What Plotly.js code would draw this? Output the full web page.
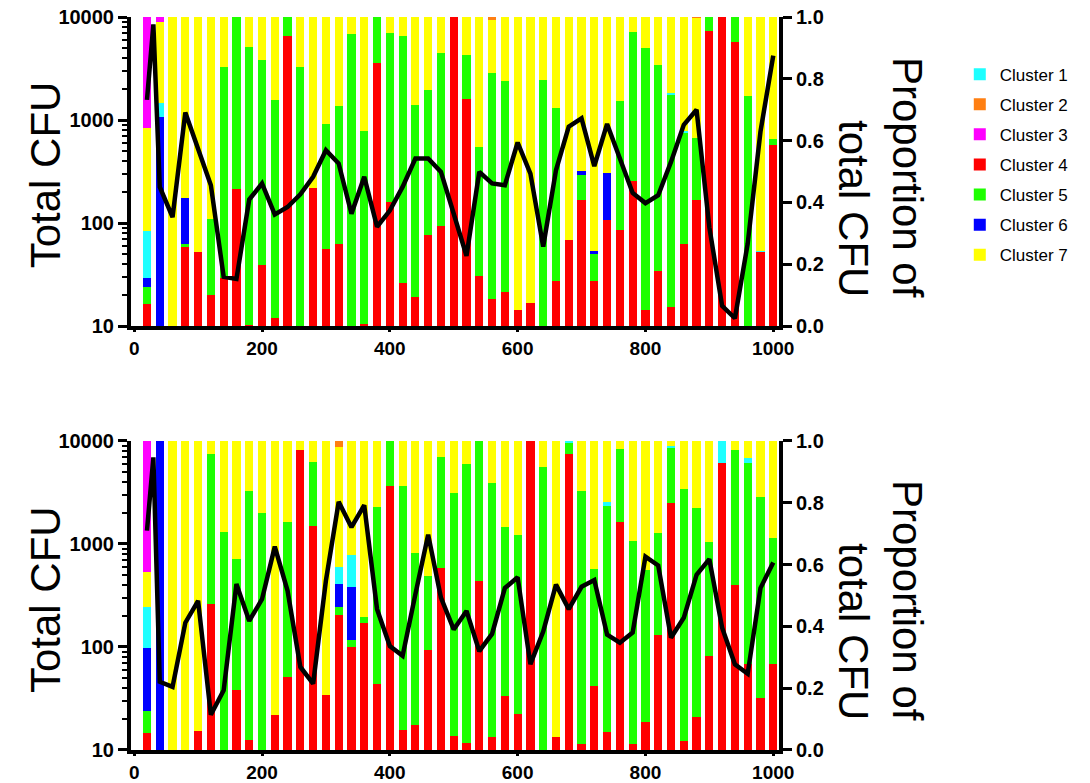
<!DOCTYPE html>
<html>
<head>
<meta charset="utf-8">
<script src="https://cdn.plot.ly/plotly-3.0.1.min.js"></script>
<style>html,body{margin:0;padding:0;background:#fff;}#chart{width:1090px;height:783px;}</style>
</head>
<body>
<div id="chart"></div>
<script>
// ---- categories ----
const xBars = [20,40,60,80,100,120,140,160,180,200,220,240,260,280,300,320,340,360,380,400,
  420,440,460,480,500,520,540,560,580,600,620,640,660,680,700,720,740,760,780,800,
  820,840,860,880,900,920,940,960,980,1000];
const xLine = [20,30,40,60,80,100,120,140,160,180,200,220,240,260,280,300,320,340,360,380,400,
  420,440,460,480,500,520,540,560,580,600,620,640,660,680,700,720,740,760,780,800,
  820,840,860,880,900,920,940,960,980,1000];
const clusterNames = ["Cluster 1","Cluster 2","Cluster 3","Cluster 4","Cluster 5","Cluster 6","Cluster 7"];
const clusterColors = ["#1EFFFF","#FF7F12","#FF00FF","#FF0000","#1EFF00","#0000FF","#FFFF00"];

// ---- top panel proportions ----
const topC1 = [.15,.047,0,0,0, 0,0,0,0,0, 0,0,0,0,0, 0,0,0,0,0, 0,0,0,0,0, 0,0,0,0,0, 0,0,0,0,0, 0,0,0,0,0, 0,.005,.004,0,0, 0,0,0,.004,0];
const topC2 = [0,0,0,0,0, 0,0,0,0,0, 0,0,0,0,0, 0,0,0,0,0, 0,0,0,0,0, 0,0,.01,0,0, 0,0,0,0,0, 0,0,0,0,0, 0,0,0,.003,0, 0,0,0,0,0];
const topC3 = [.358,.016,0,0,0, 0,0,0,0,0, 0,0,0,0,0, 0,0,0,0,0, 0,0,0,0,0, 0,0,0,0,0, 0,0,0,0,0, 0,0,0,0,0, 0,0,0,0,0, 0,0,0,0,0];
const topC4 = [.07,0,0,.257,.24, .10,.154,.444,.004,.197, .027,.938,0,.447,.248, .264,0,.005,.851,.40, .138,.095,.293,.323,1, .734,.162,.089,.111,.051, .074,0,.146,.277,.409, .146,.344,.311,.469,.052, .177,.06,.266,.407,.954, 1,.919,0,.24,.586];
const topC5 = [.055,0,0,.009,0, .245,.684,.556,.898,.663, .703,.062,.837,0,.405, .449,.945,.626,.149,.549, .802,.621,.472,.559,0, .142,.418,.73,.683,0, 0,.795,.561,0,.079, .087,0,.416,.483,.847, .667,.688,.36,.2,.046, 0,.081,.745,0,.018];
const topC6 = [.032,.676,0,.149,0, 0,0,0,0,0, 0,0,0,0,0, 0,0,0,0,0, 0,0,0,0,0, 0,0,0,0,0, 0,0,0,0,.014, .011,.152,0,0,0, 0,0,0,0,0, 0,0,0,0,0];
const topC7 = [.335,.261,1,.585,.76, .655,.162,0,.098,.14, .27,0,.163,.553,.347, .287,.055,.369,0,.051, .06,.284,.235,.118,0, .124,.42,.171,.206,.949, .926,.205,.293,.723,.498, .756,.504,.273,.048,.101, .156,.247,.37,.39,0, 0,0,.255,.756,.396];
const topCFU = [1570,8470,224,114,1183,531,233,30,28.6,169,242,121,143,190,281,509,378,123,281,92,132,
  224,423,423,314,123,48,314,242,233,605,301,59,325,861,1038,356,916,408,196,156,
  186,392,897,1259,91,15.7,11.9,63,771,4217];

// ---- bottom panel proportions ----
const botC1 = [.133,0,0,0,0, 0,0,0,0,0, 0,0,0,0,0, .056,.105,0,0,0, 0,0,0,0,0, 0,0,0,0,0, 0,0,0,.005,0, 0,.014,0,0,0, 0,.008,0,0,0, .07,0,.016,0,0];
const botC2 = [0,0,0,0,0, 0,0,0,0,0, 0,0,0,0,0, .018,0,0,0,0, 0,0,0,0,0, 0,0,0,0,0, 0,0,0,0,0, 0,0,0,0,0, 0,0,0,0,0, 0,0,0,0,0];
const botC3 = [.423,0,0,0,0, 0,0,0,0,0, 0,0,0,0,0, 0,0,0,0,0, 0,0,0,0,0, 0,0,0,0,0, 0,0,0,0,0, 0,0,0,0,0, 0,0,0,0,0, 0,0,0,0,0];
const botC4 = [.056,0,0,0,.062, .474,0,.195,.031,0, .114,.236,.971,.725,.177, .436,.334,.412,.214,.855, .065,.081,.325,.589,.046, .022,.548,.043,.174,.116, 1,0,.041,.958,.018, .206,.057,.738,.02,.09, .371,.799,.029,.108,.304, .93,.534,.279,.168,.277];
const botC5 = [.069,0,0,0,0, .484,.705,.423,.807,.767, 0,.502,0,.206,0, .028,.022,.019,.572,.145, .79,.557,.239,.36,.786, .902,.452,.821,.547,.58, 0,.916,0,.037,.82, .38,.732,.235,.656,.494, .332,.177,.817,.675,.368, 0,.437,.651,.651,.408];
const botC6 = [.206,1,0,0,0, 0,0,0,0,0, 0,0,0,0,0, .073,.17,0,0,0, 0,0,0,0,0, 0,0,0,0,0, 0,0,0,0,0, 0,0,0,0,0, 0,0,0,0,0, 0,0,0,0,0];
const botC7 = [.113,0,1,1,.938, .042,.295,.382,.162,.233, .886,.262,.029,.069,.823, .389,.369,.569,.214,0, .145,.362,.436,.051,.168, .076,0,.136,.279,.304, 0,.084,.959,0,.162, .414,.197,.027,.324,.416, .297,.016,.154,.217,.328, 0,.029,.054,.181,.315];
const botCFU = [1349,6934,46,41,172,281,22,38,408,179,291,942,351,64,44,441,2564,1455,2377,233,102,
  82,325,1233,301,148,224,91,134,373,475,68,141,403,233,384,447,132,110,138,755,
  618,123,192,502,714,154,68,55,373,662];

// stacking order bottom -> top: cluster 4,5,6,1,7,2,3
const stackOrder = [3,4,5,0,6,1,2];
const topSets = [topC1,topC2,topC3,topC4,topC5,topC6,topC7];
const botSets = [botC1,botC2,botC3,botC4,botC5,botC6,botC7];

const traces = [];
function addBars(sets, xa, ya, showLeg){
  stackOrder.forEach(ci => {
    traces.push({
      type:'bar', x:xBars, y:sets[ci], xaxis:xa, yaxis:ya,
      name:clusterNames[ci], legendrank:ci+1, legendgroup:'g'+ci,
      showlegend:showLeg, width:12.8,
      marker:{color:clusterColors[ci], line:{width:0}},
      hoverinfo:'name+y'
    });
  });
}
addBars(topSets,'x','y',true);
addBars(botSets,'x2','y3',false);
traces.push({type:'scatter', mode:'lines', x:xLine, y:topCFU, xaxis:'x', yaxis:'y2',
  line:{color:'black', width:4.5}, showlegend:false, name:'Total CFU'});
traces.push({type:'scatter', mode:'lines', x:xLine, y:botCFU, xaxis:'x2', yaxis:'y4',
  line:{color:'black', width:4.5}, showlegend:false, name:'Total CFU'});

const tickFont = {family:'Liberation Sans, Arial, sans-serif', size:20, color:'black', weight:'bold'};
const xTickFont = {family:'Liberation Sans, Arial, sans-serif', size:19, color:'black', weight:'bold'};
const fTitle = {family:'Liberation Sans, Arial, sans-serif', size:42, color:'black'};

function xAx(anchor){
  return {anchor:anchor, domain:[0,1], range:[-5,1009], tickmode:'linear', tick0:0, dtick:200,
    ticks:'outside', ticklen:2, tickwidth:3, tickcolor:'black', showline:true, linewidth:4,
    linecolor:'black', showgrid:false, zeroline:false, tickfont:xTickFont};
}
function propAx(dom, anchor){
  return {domain:dom, anchor:anchor, side:'right', range:[0,1], tickmode:'linear', tick0:0, dtick:0.2,
    tickformat:'.1f', ticks:'outside', ticklen:9, tickwidth:3, tickcolor:'black', showline:true,
    linewidth:4, linecolor:'black', showgrid:false, zeroline:false, tickfont:tickFont};
}
function logAx(over, anchor){
  return {overlaying:over, anchor:anchor, side:'left', type:'log', range:[1,4], tickmode:'linear',
    tick0:0, dtick:1, tickformat:'d', exponentformat:'none', ticks:'outside', ticklen:9, tickwidth:3, tickcolor:'black',
    minor:{ticks:'outside', ticklen:5, tickwidth:2, tickcolor:'black', dtick:'D1', showgrid:false},
    showline:true, linewidth:4, linecolor:'black', showgrid:false, zeroline:false, tickfont:tickFont};
}

const layout = {
  width:1090, height:783,
  margin:{l:131, r:311, t:17, b:33},
  paper_bgcolor:'white', plot_bgcolor:'rgba(0,0,0,0)',
  barmode:'stack', bargap:0,
  xaxis:xAx('y'), xaxis2:xAx('y3'),
  yaxis:propAx([0.5784,1],'x'), yaxis2:logAx('y','x'),
  yaxis3:propAx([0,0.4216],'x2'), yaxis4:logAx('y3','x2'),
  legend:{x:1.279, y:0.946, xanchor:'left', yanchor:'top', traceorder:'grouped', tracegroupgap:5,
    font:{family:'Liberation Sans, Arial, sans-serif', size:17, color:'black'}, bgcolor:'rgba(0,0,0,0)'},
  annotations:[
    {text:'Total CFU', xref:'paper', yref:'paper', x:-0.1327, y:0.784, textangle:-90, showarrow:false, font:fTitle, xanchor:'center', yanchor:'middle'},
    {text:'Total CFU', xref:'paper', yref:'paper', x:-0.1327, y:0.2046, textangle:-90, showarrow:false, font:fTitle, xanchor:'center', yanchor:'middle'},
    {text:'Proportion of<br>total CFU', xref:'paper', yref:'paper', x:1.156, y:0.7817, textangle:90, align:'right', showarrow:false, font:fTitle, xanchor:'center', yanchor:'middle'},
    {text:'Proportion of<br>total CFU', xref:'paper', yref:'paper', x:1.156, y:0.2046, textangle:90, align:'right', showarrow:false, font:fTitle, xanchor:'center', yanchor:'middle'}
  ],
  showlegend:true
};
Plotly.newPlot('chart', traces, layout, {displayModeBar:false, staticPlot:true});
</script>
</body>
</html>
